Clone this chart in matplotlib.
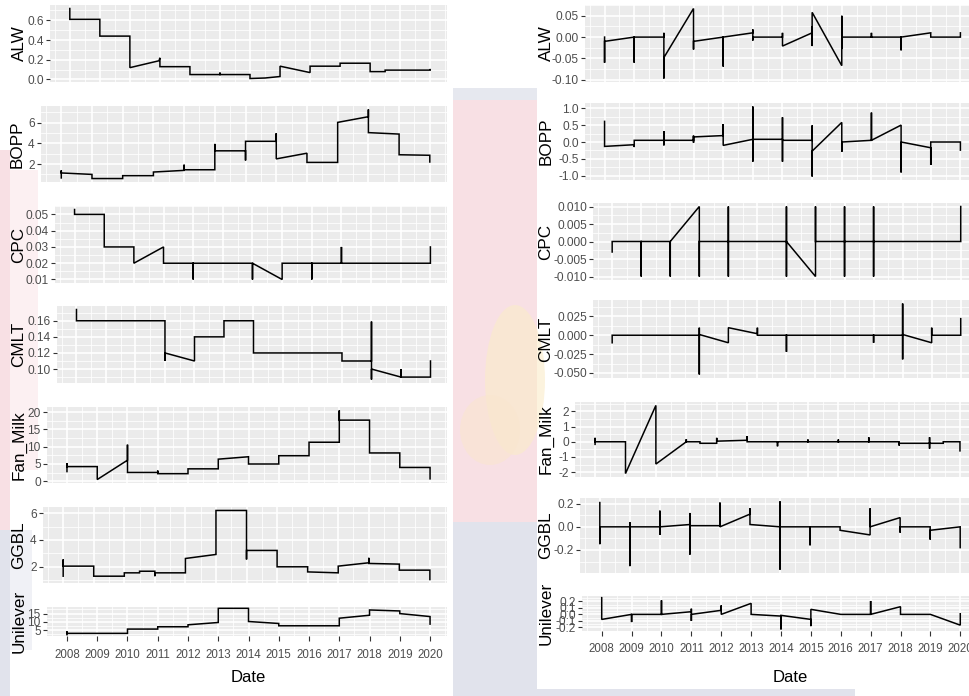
import matplotlib
matplotlib.use("Agg")
import matplotlib.pyplot as plt
from matplotlib.patches import Rectangle, Ellipse
from matplotlib.ticker import MultipleLocator, AutoMinorLocator

W, H = 970, 696

# ---- data: (year, value) vertices ----
stocks = ['ALW', 'BOPP', 'CPC', 'CMLT', 'Fan_Milk', 'GGBL', 'Unilever']
years = list(range(2008, 2021))

# left column: prices
alw_price = [(2008, 0.72), (2008, 0.61), (2009, 0.61), (2009, 0.44), (2010, 0.44), (2010, 0.12),
             (2010.97, 0.19), (2011, 0.22), (2011, 0.13), (2012, 0.13), (2012, 0.05), (2013, 0.05),
             (2013, 0.07), (2013, 0.05), (2014, 0.05), (2014, 0.01), (2014.5, 0.015), (2015, 0.03),
             (2015, 0.135), (2016, 0.07), (2016, 0.135), (2017, 0.135), (2017, 0.165), (2018, 0.165),
             (2018, 0.08), (2018.5, 0.08), (2018.5, 0.095), (2020, 0.095), (2020, 0.10)]
bopp_price = [(2008, 0.66), (2008, 1.39), (2008, 1.14), (2009, 1.0), (2009, 0.6), (2010, 0.6),
              (2010, 0.88), (2011, 0.88), (2011, 1.23), (2012, 1.39), (2012, 1.94), (2012, 1.45),
              (2013, 1.45), (2013, 3.95), (2013, 3.28), (2014, 3.28), (2014, 2.35), (2014, 4.2),
              (2015, 4.2), (2015, 4.98), (2015, 2.5), (2016, 3.05), (2016, 2.16), (2017, 2.16),
              (2017, 6.03), (2018, 6.58), (2018, 7.28), (2018, 5.04), (2019, 4.9), (2019, 2.9),
              (2020, 2.85), (2020, 2.2)]
cpc_price = [(2008, 0.053), (2008, 0.05), (2009, 0.05), (2009, 0.03), (2010, 0.03), (2010, 0.02),
             (2011, 0.03), (2011, 0.02), (2012, 0.02), (2012, 0.01), (2012, 0.02), (2014, 0.02),
             (2014, 0.01), (2014, 0.02), (2015, 0.01), (2015, 0.02), (2016, 0.02), (2016, 0.01),
             (2016, 0.02), (2017, 0.02), (2017, 0.03), (2017, 0.02), (2020, 0.02), (2020, 0.03)]
cmlt_price = [(2008, 0.174), (2008, 0.16), (2011, 0.16), (2011, 0.11), (2011, 0.12), (2012, 0.11),
              (2012, 0.14), (2013, 0.14), (2013, 0.16), (2014, 0.16), (2014, 0.12), (2017, 0.12),
              (2017, 0.11), (2018, 0.11), (2018, 0.159), (2018, 0.087), (2018, 0.10), (2019, 0.09),
              (2019, 0.10), (2019, 0.09), (2020, 0.09), (2020, 0.11)]
fanmilk_price = [(2008, 2.8), (2008, 5.2), (2008, 4.25), (2009, 4.25), (2009, 0.5), (2010, 6.1),
                 (2010, 10.6), (2010, 2.55), (2011, 2.55), (2011, 3.1), (2011, 2.2), (2012, 2.2),
                 (2012, 3.6), (2013, 3.6), (2013, 6.4), (2014, 7.1), (2014, 5.0), (2015, 5.0),
                 (2015, 7.4), (2016, 7.4), (2016, 11.3), (2017, 11.3), (2017, 20.5), (2017, 17.7),
                 (2018, 17.7), (2018, 8.2), (2019, 8.2), (2019, 4.0), (2020, 4.0), (2020, 0.7)]
ggbl_price = [(2008, 1.3), (2008, 2.55), (2008, 2.05), (2009, 2.05), (2009, 1.3), (2010, 1.3),
              (2010, 1.55), (2010.5, 1.55), (2010.5, 1.67), (2011, 1.67), (2011, 1.3), (2011, 1.55),
              (2012, 1.55), (2012, 2.62), (2013, 2.92), (2013, 6.2), (2014, 6.2), (2014, 2.55),
              (2014, 3.22), (2015, 3.22), (2015, 2.0), (2016, 2.0), (2016, 1.62), (2017, 1.55),
              (2017, 2.05), (2018, 2.3), (2018, 2.67), (2018, 2.25), (2019, 2.2), (2019, 1.75),
              (2020, 1.75), (2020, 1.05)]
unilever_price = [(2008, 2.2), (2008, 4.2), (2008, 3.0), (2010, 3.0), (2010, 5.6), (2011, 5.6),
                  (2011, 7.0), (2012, 7.0), (2012, 8.2), (2013, 9.6), (2013, 18.2), (2014, 18.2),
                  (2014, 10.2), (2015, 9.0), (2015, 7.6), (2017, 7.6), (2017, 12.2), (2018, 14.0),
                  (2018, 17.2), (2019, 16.6), (2019, 15.0), (2020, 13.2), (2020, 8.6)]

# right column: returns
alw_ret = [(2008, 0.0), (2008, -0.06), (2008, -0.01), (2009, 0.0), (2009, -0.06), (2009, 0.0),
           (2010, 0.0), (2010, 0.01), (2010, -0.097), (2010, -0.048), (2011, 0.067), (2011, -0.029),
           (2011, -0.01), (2012, 0.0), (2012, -0.069), (2012, 0.0), (2013, 0.01), (2013, 0.018),
           (2013, -0.008), (2013, 0.0), (2014, 0.0), (2014, 0.01), (2014, -0.021), (2015, 0.01),
           (2015, 0.026), (2015, -0.021), (2015, 0.058), (2016, -0.067), (2016, 0.05), (2016, -0.028),
           (2016, 0.0), (2017, 0.0), (2017, 0.01), (2017, 0.0), (2018, 0.0), (2018, -0.031),
           (2018, 0.0), (2019, 0.01), (2019, 0.0), (2020, 0.0), (2020, 0.01)]
bopp_ret = [(2008, 0.61), (2008, -0.13), (2009, -0.08), (2009, -0.15), (2009, 0.05), (2010, 0.05),
            (2010, 0.32), (2010, -0.1), (2010, 0.05), (2011, 0.05), (2011, 0.19), (2011, -0.02),
            (2011, 0.15), (2012, 0.19), (2012, 0.53), (2012, -0.1), (2013, 0.08), (2013, 1.05),
            (2013, -0.58), (2013, 0.08), (2014, 0.08), (2014, 0.73), (2014, -0.58), (2014, 0.05),
            (2015, 0.05), (2015, 0.49), (2015, -1.02), (2015, -0.27), (2016, 0.58), (2016, -0.29),
            (2016, 0.0), (2017, 0.05), (2017, 0.87), (2017, 0.05), (2018, 0.5), (2018, -0.9),
            (2018, 0.0), (2019, -0.17), (2019, -0.68), (2019, 0.0), (2020, 0.0), (2020, -0.24)]
cpc_ret = [(2008, -0.003), (2008, 0.0), (2009, 0.0), (2009, -0.01), (2009, 0.0), (2010, 0.0),
           (2010, -0.01), (2010, 0.0), (2011, 0.01), (2011, -0.01), (2011, 0.0), (2012, 0.0),
           (2012, 0.01), (2012, -0.01), (2012, 0.0), (2014, 0.0), (2014, 0.01), (2014, -0.01),
           (2014, 0.0), (2015, -0.01), (2015, 0.01), (2015, 0.0), (2016, 0.0), (2016, 0.01),
           (2016, -0.01), (2016, 0.0), (2017, 0.0), (2017, 0.01), (2017, -0.01), (2017, 0.0),
           (2020, 0.0), (2020, 0.01)]
cmlt_ret = [(2008, -0.01), (2008, 0.0), (2011, 0.0), (2011, 0.01), (2011, -0.052), (2011, 0.001),
            (2012, -0.01), (2012, 0.01), (2013, 0.002), (2013, 0.01), (2013, 0.0), (2014, 0.0),
            (2014, -0.022), (2014, 0.0), (2017, 0.0), (2017, -0.01), (2017, 0.0), (2018, 0.0),
            (2018, 0.042), (2018, -0.032), (2018, 0.001), (2019, -0.01), (2019, 0.01), (2019, 0.0),
            (2020, 0.0), (2020, 0.022)]
fanmilk_ret = [(2008, -0.17), (2008, 0.26), (2008, 0.0), (2009, 0.0), (2009, -2.1), (2010, 2.4),
               (2010, -1.47), (2011, 0.0), (2011, 0.17), (2011, 0.0), (2011.45, 0.0), (2011.45, -0.1),
               (2012, -0.1), (2012, 0.26), (2012, 0.04), (2013, 0.1), (2013, 0.37), (2013, 0.0),
               (2014, 0.0), (2014, -0.3), (2014, 0.0), (2015, 0.0), (2015, 0.15), (2015, 0.0),
               (2016, 0.0), (2016, 0.15), (2016, 0.0), (2017, 0.0), (2017, 0.3), (2017, 0.0),
               (2018, 0.0), (2018, -0.25), (2018, -0.1), (2019, -0.1), (2019, 0.3), (2019, -0.45),
               (2019, -0.1), (2019.45, -0.1), (2019.45, 0.0), (2020, 0.0), (2020, -0.6)]
ggbl_ret = [(2008, 0.21), (2008, -0.15), (2008, 0.0), (2009, 0.0), (2009, 0.04), (2009, -0.34),
            (2009, 0.0), (2010, 0.0), (2010, 0.14), (2010, -0.07), (2010, 0.0), (2011, 0.02),
            (2011, 0.12), (2011, -0.24), (2011, 0.01), (2012, 0.01), (2012, 0.21), (2012, 0.0),
            (2013, 0.11), (2013, 0.16), (2013, 0.02), (2014, 0.0), (2014, 0.22), (2014, -0.37),
            (2014, 0.0), (2015, 0.0), (2015, -0.16), (2015, 0.0), (2016, 0.0), (2016, -0.03),
            (2017, -0.07), (2017, 0.16), (2017, 0.0), (2018, 0.08), (2018, -0.05), (2018, 0.0),
            (2019, 0.0), (2019, -0.11), (2019, -0.03), (2020, 0.0), (2020, -0.18)]
unilever_ret = [(2008, 0.257), (2008, -0.077), (2009, 0.0), (2009, -0.118), (2009, 0.0), (2010, 0.0),
                (2010, 0.215), (2010, 0.0), (2011, 0.041), (2011, 0.087), (2011, -0.10), (2011, 0.0),
                (2012, 0.062), (2012, 0.138), (2012, 0.0), (2013, 0.169), (2013, 0.0), (2014, -0.026),
                (2014, -0.23), (2014, -0.015), (2015, -0.077), (2015, -0.18), (2015, 0.077), (2016, 0.0),
                (2017, 0.0), (2017, 0.205), (2017, 0.0), (2018, 0.118), (2018, 0.0), (2019, 0.0),
                (2020, -0.165), (2020, 0.01)]

price_ticks = [[0, 0.2, 0.4, 0.6], [2, 4, 6], [0.01, 0.02, 0.03, 0.04, 0.05],
               [0.10, 0.12, 0.14, 0.16], [0, 5, 10, 15, 20], [2, 4, 6], [5, 10, 15]]
price_fmt = ['{:.1f}', '{:g}', '{:.2f}', '{:.2f}', '{:g}', '{:g}', '{:g}']
ret_ticks = [[-0.10, -0.05, 0, 0.05], [-1, -0.5, 0, 0.5, 1], [-0.01, -0.005, 0, 0.005, 0.01],
             [-0.05, -0.025, 0, 0.025], [-2, -1, 0, 1, 2], [-0.2, 0, 0.2], [-0.2, -0.1, 0, 0.1, 0.2]]
ret_fmt = ['{:.2f}', '{:.1f}', '{:.3f}', '{:.3f}', '{:g}', '{:.1f}', '{:.1f}']

price_series = [alw_price, bopp_price, cpc_price, cmlt_price, fanmilk_price, ggbl_price, unilever_price]
ret_series = [alw_ret, bopp_ret, cpc_ret, cmlt_ret, fanmilk_ret, ggbl_ret, unilever_ret]

# ---- layout in pixels: (left, top, bottom) of each panel ----
left_boxes = [(50, 5, 82), (41, 106, 182), (55, 206, 283), (57, 306, 383),
              (47, 407, 483), (43, 507, 583), (47, 607, 636)]
right_boxes = [(585, 5, 82), (585, 103, 180), (593, 203, 280), (593, 300, 378),
               (575, 402, 477), (580, 498, 573), (582, 596, 631)]
LEFT_END, RIGHT_END = 447, 977
XLIM = (2007.34, 2020.56)

FONT = ['Liberation Sans', 'DejaVu Sans']

fig = plt.figure(figsize=(W / 100, H / 100), dpi=100, facecolor='white')


def px_rect(x0, y0, x1, y1, color):
    fig.add_artist(Rectangle((x0 / W, 1 - y1 / H), (x1 - x0) / W, (y1 - y0) / H,
                             transform=fig.transFigure, color=color, lw=0, zorder=-2))


# faint watermark showing through around the two plots
px_rect(453, 88, 537, 100, '#e6e8ef')
px_rect(453, 100, 537, 522, '#f8e0e4')
px_rect(453, 522, 537, 696, '#e1e3ec')
fig.add_artist(Ellipse((515 / W, 1 - 380 / H), 60 / W, 150 / H, transform=fig.transFigure,
                       color='#fbecc9', lw=0, alpha=0.6, zorder=-1.5))
fig.add_artist(Ellipse((490 / W, 1 - 430 / H), 60 / W, 70 / H, transform=fig.transFigure,
                       color='#fae6cf', lw=0, alpha=0.6, zorder=-1.5))
px_rect(0, 150, 10, 530, '#f8e0e4')
px_rect(10, 170, 38, 470, '#fcf0f2')
px_rect(0, 530, 10, 696, '#e1e3ec')
px_rect(10, 530, 32, 650, '#f0f1f6')
px_rect(537, 689, 855, 696, '#e1e3ec')


def draw_panel(box, right_end, series, ticks, fmt, name, label_x, bottom):
    l, t, b = box
    ax = fig.add_axes([l / W, 1 - b / H, (right_end - l) / W, (b - t) / H])
    ax.set_facecolor('#EBEBEB')
    for s in ax.spines.values():
        s.set_visible(False)
    xs = [p[0] for p in series]
    ys = [p[1] for p in series]
    ax.plot(xs, ys, color='black', lw=1.1, solid_joinstyle='miter', zorder=3)
    ax.set_xlim(*XLIM)
    ax.margins(y=0.05)
    ax.set_yticks(ticks, labels=[fmt.format(v) for v in ticks])
    ax.yaxis.set_minor_locator(AutoMinorLocator(2))
    ax.set_xticks(years, labels=[str(y) for y in years])
    ax.xaxis.set_minor_locator(MultipleLocator(0.5))
    ax.grid(which='major', color='white', lw=1.2)
    ax.grid(which='minor', color='white', lw=0.55)
    ax.set_axisbelow(True)
    ax.tick_params(which='minor', length=0)
    ax.tick_params(axis='y', which='major', length=3, width=0.8, color='#333333',
                   labelcolor='#4D4D4D', labelsize=8.6, pad=1.5)
    for lab in ax.get_yticklabels():
        lab.set_family(FONT)
    if bottom:
        ax.tick_params(axis='x', which='major', length=3.5, width=0.8, color='#333333',
                       labelcolor='#4D4D4D', labelsize=8.3, pad=5.5)
        for lab in ax.get_xticklabels():
            lab.set_family(FONT)
    else:
        ax.tick_params(axis='x', which='major', length=0, labelbottom=False)
    fig.text(label_x / W, 1 - (t + b) / 2 / H, name, rotation=90, ha='center', va='center',
             fontsize=12.3, family=FONT, color='black')
    return ax


for i, name in enumerate(stocks):
    last = i == len(stocks) - 1
    draw_panel(left_boxes[i], LEFT_END, price_series[i], price_ticks[i], price_fmt[i],
               name, 17 if name == 'BOPP' else 19, last)
    draw_panel(right_boxes[i], RIGHT_END, ret_series[i], ret_ticks[i], ret_fmt[i],
               name, 546, last)

fig.text(248 / W, 1 - 678 / H, 'Date', ha='center', va='center', fontsize=12,
         family=FONT, color='black')
fig.text(790 / W, 1 - 677 / H, 'Date', ha='center', va='center', fontsize=12,
         family=FONT, color='black')

fig.savefig('out.png', dpi=100, facecolor='white')
